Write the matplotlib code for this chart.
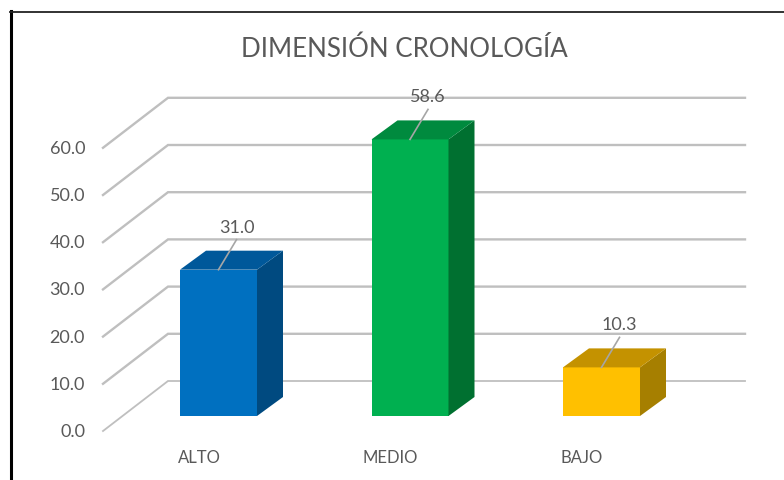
import matplotlib
matplotlib.use('Agg')
import matplotlib.pyplot as plt
from matplotlib.lines import Line2D
from matplotlib.patches import Polygon

plt.rcParams['font.family'] = ['Lato', 'DejaVu Sans']

# datos del grafico
categorias = ['ALTO', 'MEDIO', 'BAJO']
valores = [31.0, 58.6, 10.3]
ticks = [0, 10, 20, 30, 40, 50, 60]
titulo = 'DIMENSIÓN CRONOLOGÍA'

frente = ['#0070C0', '#00B050', '#FFC000']
arriba = ['#00589A', '#008A3E', '#C49200']
lado = ['#004A80', '#007030', '#A67F00']

W, H = 784, 481
px_cat = 191.5   # pixeles entre categorias
px_val = 4.72    # pixeles por unidad de valor
x0, y0 = 218.5, 417   # donde cae categoria 0 / valor 0

fig = plt.figure(figsize=(W/100, H/100), dpi=100)
ax = fig.add_axes([0, 0, 1, 1])
ax.set_xlim(-x0/px_cat, (W-x0)/px_cat)
ax.set_ylim((y0-H)/px_val, y0/px_val)
ax.axis('off')

# profundidad de la "caja" 3D en unidades del eje
ancho = 77/px_cat
dx_barra, dy_barra = 26/px_cat, 19/px_val
x_suelo_f, y_suelo_f = (103-x0)/px_cat, -15/px_val
x_suelo_b, y_suelo_b = (168-x0)/px_cat, 35/px_val
x_fin = (745-x0)/px_cat

# lineas de la grilla
for t in ticks:
    lw = 1.3 if t == 0 else 1.7
    ax.plot([x_suelo_f, x_suelo_b, x_fin],
            [t+y_suelo_f, t+y_suelo_b, t+y_suelo_b],
            color='#BFBFBF', lw=lw, solid_joinstyle='miter', zorder=1)
    ax.text(x_suelo_f-18/px_cat, t+y_suelo_f, '%.1f' % t, ha='right', va='center',
            fontsize=13, color='#595959')

# barras
for i, v in enumerate(valores):
    xi = i - ancho/2
    xd = xi + ancho
    ax.add_patch(Polygon([(xi, 0), (xd, 0), (xd, v), (xi, v)], fc=frente[i], ec='none', zorder=3))
    ax.add_patch(Polygon([(xd, 0), (xd+dx_barra, dy_barra), (xd+dx_barra, v+dy_barra), (xd, v)],
                         fc=lado[i], ec='none', zorder=3))
    ax.add_patch(Polygon([(xi, v), (xd, v), (xd+dx_barra, v+dy_barra), (xi+dx_barra, v+dy_barra)],
                         fc=arriba[i], ec='none', zorder=3))
    # linea guia y etiqueta
    ax.plot([i, i+18/px_cat], [v, v+30/px_val], color='#A6A6A6', lw=1.2, zorder=4)
    ax.text(i+18/px_cat, v+43/px_val, '%.1f' % v, ha='center', va='center',
            fontsize=13, color='#595959', zorder=5)
    ax.text(i-19.5/px_cat, -41/px_val, categorias[i], ha='center', va='center',
            fontsize=12, color='#595959')

fig.text(404/W, 1-49/H, titulo, ha='center', va='center', fontsize=18.6, color='#595959')

# marco negro de la captura
fig.add_artist(Line2D([10.5/W, 10.5/W], [0, 1-12/H], color='black', lw=2.2))
fig.add_artist(Line2D([10/W, 1], [1-12.5/H, 1-12.5/H], color='#222222', lw=1.3))

plt.savefig('out.png', dpi=100)
